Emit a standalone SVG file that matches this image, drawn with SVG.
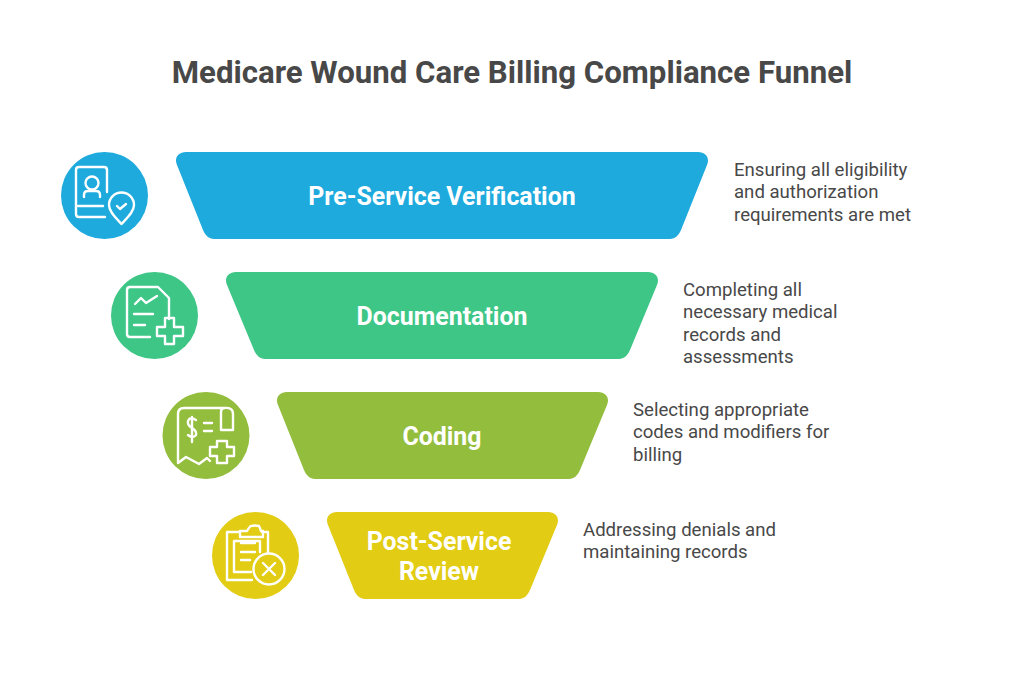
<svg xmlns="http://www.w3.org/2000/svg" width="1024" height="683" viewBox="0 0 1024 683">
<style>
text{font-family:Roboto,"Liberation Sans",sans-serif}
.t{font-size:31.200px;font-weight:700;fill:#484848;text-anchor:middle}
.l{font-size:24.900px;font-weight:700;fill:#fff;text-anchor:middle}
.d{font-size:18.600px;fill:#484848}
.i{fill:none;stroke:#fff;stroke-width:2.400;stroke-linecap:round;stroke-linejoin:round}
</style>
<rect width="1024" height="683" fill="#fff"/>
<text class="t" x="512" y="82.500">Medicare Wound Care Billing Compliance Funnel</text>
<g id="node-verification">
<path fill="#1eaadd" d="M186 152H698C706 152 710 158 707 165L681 230C679 235 675 239 670 239H214C209 239 205 235 203 230L177 165C174 158 178 152 186 152Z"/>
<text class="l" x="442" y="204.500">Pre-Service Verification</text>
<circle cx="104.500" cy="195.500" r="43.500" fill="#1eaadd"/>
<g class="i"><path d="M105 217H79Q76 217 76 214V170Q76 167 79 167H104Q107 167 107 170V192"/><path d="M78 206H103"/><circle cx="92" cy="183" r="6.500"/><path d="M84 197V195Q84 191 88 191H96Q100 191 100 195V197"/><path d="M121.500 224C116 218 109 212 109 205A12.500 12.500 0 0 1 134 205C134 212 127 218 121.500 224Z"/><path d="M117 206L120 209L126 204"/></g>
<text class="d"><tspan x="734" y="175.500">Ensuring all eligibility</tspan><tspan x="734" y="198">and authorization</tspan><tspan x="734" y="220.500">requirements are met</tspan></text>
</g>
<g id="node-documentation">
<path fill="#3ec686" d="M236 272H648C656 272 660 278 657 285L630 350C628 355 624 359 619 359H265C260 359 256 355 254 350L227 285C224 278 228 272 236 272Z"/>
<text class="l" x="442" y="324.500">Documentation</text>
<circle cx="154.500" cy="315.500" r="43.500" fill="#3ec686"/>
<g class="i"><path d="M150 337H130Q127 337 127 334V290Q127 287 130 287H158L169 298V319"/><path d="M135 304L141 298L146 303L157 296"/><path d="M134 314H153"/><path d="M134 325H145"/><path d="M165 318H174V327H183V336H174V344H165V336H157V327H165Z"/></g>
<text class="d"><tspan x="683" y="295.500">Completing all</tspan><tspan x="683" y="318">necessary medical</tspan><tspan x="683" y="340.500">records and</tspan><tspan x="683" y="363">assessments</tspan></text>
</g>
<g id="node-coding">
<path fill="#93bd3c" d="M287 392H598C606 392 610 398 607 405L580 470C578 475 574 479 569 479H315C310 479 306 475 304 470L278 405C275 398 279 392 287 392Z"/>
<text class="l" x="442" y="444.500">Coding</text>
<circle cx="206" cy="435.500" r="43.500" fill="#93bd3c"/>
<g class="i"><path d="M224 408H184Q178 408 178 414V463L186 457L199 464L207 458L210 461"/><path d="M224 408Q233 407 233 414V430H221V412Q221 408 224 408"/><path d="M196 420Q190 416 188 421Q187 425 192 428Q197 431 196 435Q193 439 188 435M192 417V442"/><path d="M204 423H212M204 431H212"/><path d="M217 441H227V447H234V456H227V463H217V456H210V447H217Z"/></g>
<text class="d"><tspan x="633" y="415.500">Selecting appropriate</tspan><tspan x="633" y="438">codes and modifiers for</tspan><tspan x="633" y="460.500">billing</tspan></text>
</g>
<g id="node-review">
<path fill="#e2cc14" d="M337 512H548C556 512 560 518 557 525L530 590C528 595 524 599 519 599H365C360 599 356 595 354 590L328 525C325 518 329 512 337 512Z"/>
<text class="l"><tspan x="439" y="549.500">Post-Service</tspan><tspan x="439" y="579.500">Review</tspan></text>
<circle cx="255.500" cy="555.500" r="43.500" fill="#e2cc14"/>
<g class="i"><path d="M240 532H227V580H252"/><path d="M268 552V532H262"/><path d="M240 537V531H247Q250 526 251 526Q255 525 259 526Q260 528 261 531H263V537Z"/><path d="M251 572H234V541H260V552"/><path d="M241 543H255M241 552H255M241 560H250"/><circle cx="269" cy="569" r="15.500"/><path d="M263 563L275 575M275 563L263 575"/></g>
<text class="d"><tspan x="583" y="535.500">Addressing denials and</tspan><tspan x="583" y="558">maintaining records</tspan></text>
</g>
<g id="connectors"/>
</svg>
